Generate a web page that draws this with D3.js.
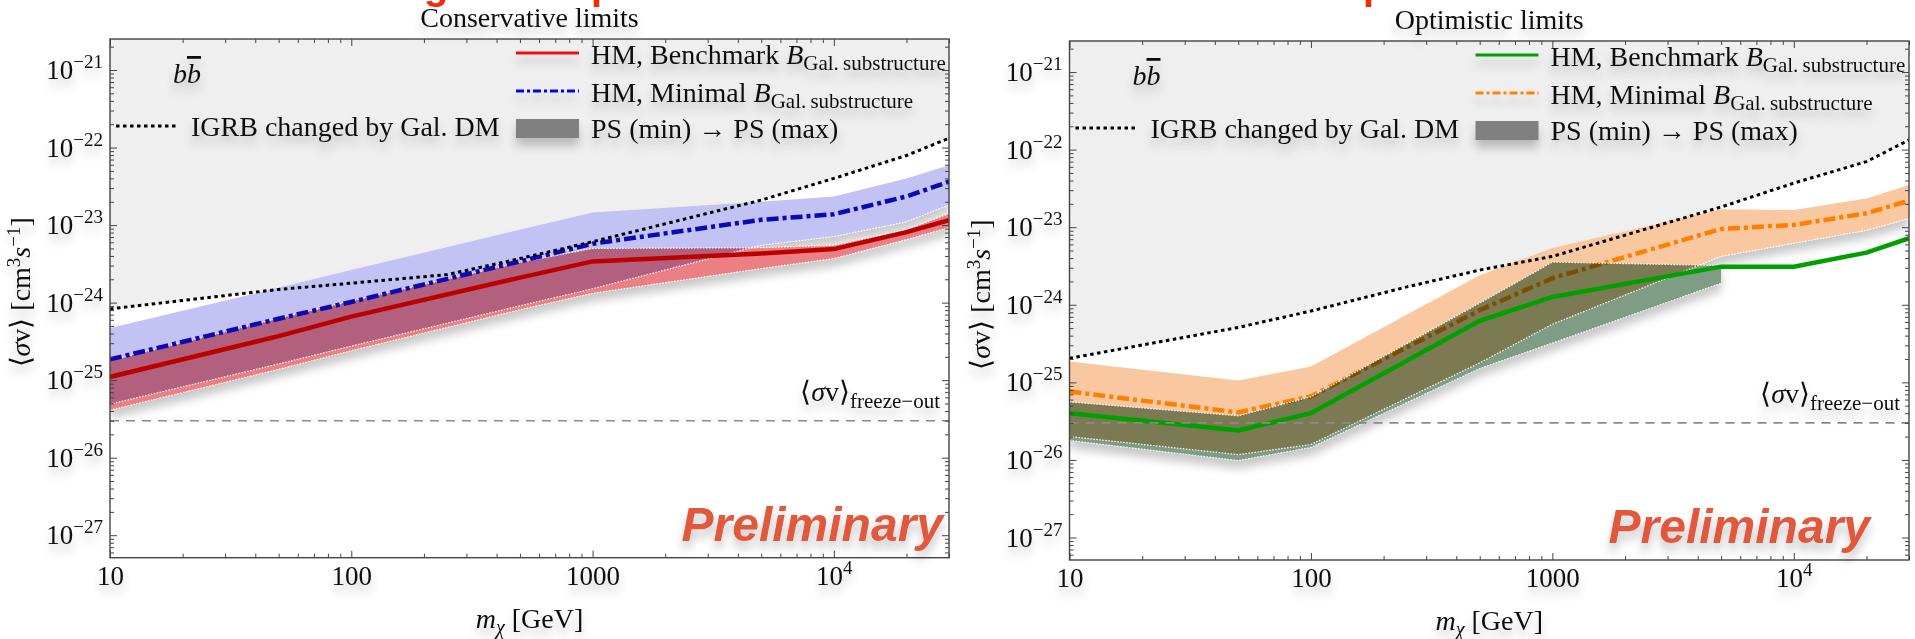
<!DOCTYPE html>
<html>
<head>
<meta charset="utf-8">
<script src="https://cdn.jsdelivr.net/npm/d3@7"></script>
<style>
  body { margin: 0; background: #fff; }
  svg { display: block; }
  text { font-family: "Liberation Serif", "Times New Roman", serif; fill: #111; }
</style>
</head>
<body>
<div id="chart"></div>
<script>
// ---- data ----
const masses = [10, 50, 100, 500, 1000, 5000, 10000, 20000, 30000];
const igrbMasses = [10, 50, 100, 250, 500, 1000, 5000, 10000, 20000, 30000];
const optBandMasses = [10, 50, 100, 500, 1000, 5000];

// Conservative limits
const consBenchmark     = [1.10e-25, 3.7e-25, 6.6e-25, 2.1e-24, 3.4e-24, 4.3e-24, 4.9e-24, 8.1e-24, 1.16e-23];
const consBenchmarkHigh = [1.78e-25, 6.3e-25, 1.05e-24, 3.3e-24, 5.0e-24, 5.1e-24, 5.5e-24, 8.7e-24, 1.41e-23];
const consBenchmarkLow  = [4.1e-26, 1.38e-25, 2.4e-25, 8.1e-25, 1.32e-24, 2.75e-24, 3.7e-24, 6.5e-24, 9.3e-24];
const consMinimal       = [1.85e-25, 6.2e-25, 1.02e-24, 3.4e-24, 5.75e-24, 1.17e-23, 1.38e-23, 2.34e-23, 3.63e-23];
const consMinimalHigh   = [4.7e-25, 1.55e-24, 2.63e-24, 8.7e-24, 1.45e-23, 2.0e-23, 2.34e-23, 3.98e-23, 5.9e-23];
const consMinimalLow    = [4.9e-26, 1.62e-25, 2.75e-25, 9.1e-25, 1.51e-24, 5.5e-24, 7.1e-24, 1.1e-23, 1.82e-23];
const consIgrb          = [8.3e-25, 1.48e-24, 1.78e-24, 2.3e-24, 3.7e-24, 6.1e-24, 2.1e-23, 4.0e-23, 7.9e-23, 1.32e-22];

// Optimistic limits
const optBenchmark      = [4.0e-26, 2.4e-26, 4.0e-26, 6.2e-25, 1.26e-24, 3.1e-24, 3.1e-24, 4.7e-24, 7.2e-24];
const optBenchmarkHigh  = [5.6e-26, 3.7e-26, 6.5e-26, 1.05e-24, 3.55e-24, 3.2e-24];
const optBenchmarkLow   = [1.78e-26, 9.8e-27, 1.45e-26, 1.51e-25, 3.2e-25, 1.9e-24];
const optMinimal        = [7.6e-26, 4.1e-26, 6.6e-26, 8.5e-25, 2.2e-24, 9.5e-24, 1.07e-23, 1.51e-23, 2.2e-23];
const optMinimalHigh    = [1.86e-25, 1.06e-25, 1.6e-25, 2.4e-24, 5.4e-24, 1.7e-23, 1.66e-23, 2.34e-23, 3.5e-23];
const optMinimalLow     = [2.0e-26, 1.17e-26, 1.58e-26, 1.78e-25, 5.6e-25, 4.2e-24, 6.2e-24, 9.1e-24, 1.29e-23];
const optIgrb           = [2.04e-25, 5.1e-25, 8.3e-25, 1.7e-24, 2.8e-24, 4.2e-24, 1.82e-23, 3.7e-23, 7.0e-23, 1.33e-22];

const freezeOut = 3e-26;

const xTickValues = [10, 100, 1000, 10000];
const xTickLabels = [["10", ""], ["100", ""], ["1000", ""], ["10", "4"]];
const yTickValues = [1e-27, 1e-26, 1e-25, 1e-24, 1e-23, 1e-22, 1e-21];
const yTickLabels = ["\u221227", "\u221226", "\u221225", "\u221224", "\u221223", "\u221222", "\u221221"];

// cut-off slide heading above the figure (only descenders visible)
const headingBits = [["g", 424], ["p", 591], ["p", 1363]];

const W = 1915, H = 639;
const xDomain = [10, 30000];
const yDomain = [Math.pow(10, -27.29), Math.pow(10, -20.6)];

const svg = d3.select("#chart").append("svg").attr("width", W).attr("height", H);
const defs = svg.append("defs");
const shadow = defs.append("filter").attr("id", "shadow").attr("filterUnits", "userSpaceOnUse")
    .attr("x", -2500).attr("y", -1500).attr("width", 5000).attr("height", 3000);
shadow.append("feDropShadow").attr("dx", 0).attr("dy", 8).attr("stdDeviation", 5)
    .attr("flood-color", "#000").attr("flood-opacity", 0.22);

// minor tick positions
const minorX = [];
for (let k = 1; k <= 4; k++) for (let j = 2; j <= 9; j++) { const v = j * Math.pow(10, k); if (v <= 30000) minorX.push(v); }
const minorY = [];
for (let k = -28; k <= -21; k++) for (let j = 2; j <= 9; j++) { const v = j * Math.pow(10, k); if (v >= yDomain[0] && v <= yDomain[1]) minorY.push(v); }

const panels = [
  { left: 110, right: 949, top: 39, bottom: 557.7, title: "Conservative limits",
    bench: consBenchmark, benchHi: consBenchmarkHigh, benchLo: consBenchmarkLow, benchBandMasses: masses,
    minimal: consMinimal, minHi: consMinimalHigh, minLo: consMinimalLow, igrb: consIgrb,
    benchColor: "#bb0000", benchLegend: "#ee1010", minColor: "#0a0ab4", minLegend: "#0000ff",
    benchBand: "#eb7f84", minBand: "#c2c2f4", minLineOnTop: true, prelimRight: 943 },
  { left: 1069.5, right: 1909, top: 41, bottom: 560, title: "Optimistic limits",
    bench: optBenchmark, benchHi: optBenchmarkHigh, benchLo: optBenchmarkLow, benchBandMasses: optBandMasses,
    minimal: optMinimal, minHi: optMinimalHigh, minLo: optMinimalLow, igrb: optIgrb,
    benchColor: "#00a000", benchLegend: "#00a000", minColor: "#ff8000", minLegend: "#ff8000",
    benchBand: "#7f9c84", minBand: "#f9c8a0", minLineOnTop: false, prelimRight: 1870 }
];

function supLabel(sel, base, exp, supSize, rise) {
  sel.text(null);
  sel.append("tspan").text(base);
  if (exp) sel.append("tspan").attr("font-size", supSize).attr("dy", -rise).text(exp);
}

// heading fragments
svg.append("g").selectAll("text").data(headingBits).join("text")
    .attr("x", d => d[1]).attr("y", -1)
    .style("font-family", "'Liberation Sans', Arial, sans-serif").attr("font-weight", "bold")
    .attr("font-size", 40).style("fill", "#f52a0a").text(d => d[0]);

panels.forEach((p, pi) => {
  const x = d3.scaleLog().domain(xDomain).range([p.left, p.right]);
  const y = d3.scaleLog().domain(yDomain).range([p.bottom, p.top]);
  const g = svg.append("g");

  const clipId = "clip" + pi;
  defs.append("clipPath").attr("id", clipId).append("rect")
      .attr("x", p.left).attr("y", p.top).attr("width", p.right - p.left).attr("height", p.bottom - p.top);
  const plot = g.append("g").attr("clip-path", `url(#${clipId})`);

  plot.append("rect").attr("x", p.left).attr("y", p.top)
      .attr("width", p.right - p.left).attr("height", p.bottom - p.top).attr("fill", "#fff");

  // excluded region above IGRB curve
  const igrbPts = igrbMasses.map((m, i) => ({ m, v: p.igrb[i] }));
  plot.append("path").datum(igrbPts)
      .attr("d", d3.area().x(d => x(d.m)).y0(p.top).y1(d => y(d.v)))
      .attr("fill", "#efefef");

  const band = d3.area().x(d => x(d.m)).y0(d => y(d.lo)).y1(d => y(d.hi));
  const edgeLo = d3.line().x(d => x(d.m)).y(d => y(d.lo));
  const edgeHi = d3.line().x(d => x(d.m)).y(d => y(d.hi));
  const curve = d3.line().x(d => x(d.m)).y(d => y(d.v));

  const minPts = masses.map((m, i) => ({ m, lo: p.minLo[i], hi: p.minHi[i] }));
  const benchPts = p.benchBandMasses.map((m, i) => ({ m, lo: p.benchLo[i], hi: p.benchHi[i] }));
  const minLine = masses.map((m, i) => ({ m, v: p.minimal[i] }));
  const benchLine = masses.map((m, i) => ({ m, v: p.bench[i] }));

  const bands = plot.append("g").attr("filter", "url(#shadow)").style("isolation", "isolate");
  bands.append("path").datum(minPts).attr("d", band).attr("fill", p.minBand).style("mix-blend-mode", "multiply");
  const drawMinLine = parent => parent.append("path").datum(minLine).attr("d", curve)
      .attr("fill", "none").attr("stroke", p.minColor).attr("stroke-width", 4.5)
      .attr("stroke-dasharray", "12,4,4,4");
  if (!p.minLineOnTop) drawMinLine(bands);
  bands.append("path").datum(benchPts).attr("d", band).attr("fill", p.benchBand).style("mix-blend-mode", "multiply");

  // white dotted band edges
  const edges = plot.append("g").attr("fill", "none").attr("stroke", "#fff")
      .attr("stroke-width", 1.2).attr("stroke-dasharray", "1.5,1.5");
  edges.append("path").datum(benchPts).attr("d", edgeLo);
  edges.append("path").datum(benchPts).attr("d", edgeHi);
  edges.append("path").datum(minPts).attr("d", edgeLo);

  if (p.minLineOnTop) drawMinLine(plot);
  plot.append("path").datum(benchLine).attr("d", curve)
      .attr("fill", "none").attr("stroke", p.benchColor).attr("stroke-width", 4.5);

  // IGRB dotted curve
  plot.append("path").datum(igrbPts).attr("d", curve)
      .attr("fill", "none").attr("stroke", "#000").attr("stroke-width", 3)
      .attr("stroke-dasharray", "3.5,3.5");

  // freeze-out line
  plot.append("line").attr("x1", p.left).attr("x2", p.right)
      .attr("y1", y(freezeOut)).attr("y2", y(freezeOut))
      .attr("stroke", "#8a8a8a").attr("stroke-width", 1.6).attr("stroke-dasharray", "9,7");

  // ---- frame & ticks ----
  const axisCol = "#444";
  const styleAxis = a => { a.attr("font-family", null).attr("font-size", null).attr("color", axisCol); a.select(".domain").remove(); };

  const xb = g.append("g").attr("transform", `translate(0,${p.bottom})`)
      .call(d3.axisBottom(x).tickValues(xTickValues).tickSize(-7).tickPadding(8).tickFormat(""));
  styleAxis(xb);
  xb.selectAll(".tick text").attr("font-size", 27).attr("filter", "url(#shadow)")
      .each(function (d, i) { supLabel(d3.select(this), xTickLabels[i][0], xTickLabels[i][1], 19, 11); });
  g.append("g").attr("transform", `translate(0,${p.bottom})`)
      .call(d3.axisBottom(x).tickValues(minorX).tickSize(-4).tickFormat("")).call(styleAxis);
  g.append("g").attr("transform", `translate(0,${p.top})`)
      .call(d3.axisTop(x).tickValues(xTickValues).tickSize(-7).tickFormat("")).call(styleAxis);
  g.append("g").attr("transform", `translate(0,${p.top})`)
      .call(d3.axisTop(x).tickValues(minorX).tickSize(-4).tickFormat("")).call(styleAxis);

  const yl = g.append("g").attr("transform", `translate(${p.left},0)`)
      .call(d3.axisLeft(y).tickValues(yTickValues).tickSize(-7).tickPadding(7).tickFormat(""));
  styleAxis(yl);
  yl.selectAll(".tick text").attr("font-size", 27).attr("filter", "url(#shadow)")
      .each(function (d, i) { supLabel(d3.select(this), "10", yTickLabels[i], 19, 11); });
  g.append("g").attr("transform", `translate(${p.left},0)`)
      .call(d3.axisLeft(y).tickValues(minorY).tickSize(-4).tickFormat("")).call(styleAxis);
  g.append("g").attr("transform", `translate(${p.right},0)`)
      .call(d3.axisRight(y).tickValues(yTickValues).tickSize(-7).tickFormat("")).call(styleAxis);
  g.append("g").attr("transform", `translate(${p.right},0)`)
      .call(d3.axisRight(y).tickValues(minorY).tickSize(-4).tickFormat("")).call(styleAxis);

  g.append("rect").attr("x", p.left).attr("y", p.top)
      .attr("width", p.right - p.left).attr("height", p.bottom - p.top)
      .attr("fill", "none").attr("stroke", axisCol).attr("stroke-width", 1.4);

  // ---- titles ----
  const cx = (p.left + p.right) / 2;
  g.append("text").attr("x", cx).attr("y", p.top - 12).attr("text-anchor", "middle")
      .attr("font-size", 28).attr("filter", "url(#shadow)").text(p.title);

  const xt = g.append("text").attr("x", cx).attr("y", p.bottom + 70).attr("text-anchor", "middle")
      .attr("font-size", 28).attr("filter", "url(#shadow)");
  xt.append("tspan").attr("font-style", "italic").text("m");
  xt.append("tspan").attr("font-style", "italic").attr("font-size", 20).attr("dy", 6).text("\u03c7");
  xt.append("tspan").attr("dy", -6).text(" [GeV]");

  const ycy = (p.top + p.bottom) / 2 - 6;
  const yt = g.append("g").attr("filter", "url(#shadow)").append("text")
      .attr("transform", `translate(${p.left - 80},${ycy}) rotate(-90)`)
      .attr("text-anchor", "middle").attr("font-size", 28);
  yt.append("tspan").text("\u27e8");
  yt.append("tspan").attr("font-style", "italic").text("\u03c3");
  yt.append("tspan").text("v\u27e9 [cm");
  yt.append("tspan").attr("font-size", 19).attr("dy", -10).text("3");
  yt.append("tspan").attr("dy", 10).attr("font-style", "italic").text("s");
  yt.append("tspan").attr("font-size", 19).attr("dy", -10).text("\u22121");
  yt.append("tspan").attr("dy", 10).text("]");

  // freeze-out label
  const fo = g.append("text").attr("x", p.right - 9).attr("y", p.top + 362).attr("text-anchor", "end")
      .attr("font-size", 28).attr("filter", "url(#shadow)");
  fo.append("tspan").text("\u27e8");
  fo.append("tspan").attr("font-style", "italic").text("\u03c3");
  fo.append("tspan").text("v\u27e9");
  fo.append("tspan").attr("font-size", 21).attr("dy", 7).text("freeze\u2212out");

  // b bbar
  const bb = g.append("text").attr("x", p.left + 63).attr("y", p.top + 44)
      .attr("font-size", 28).attr("font-style", "italic").attr("filter", "url(#shadow)");
  bb.append("tspan").text("b");
  bb.append("tspan").style("text-decoration", "overline").text("b");

  // ---- legend ----
  const lg = g.append("g").attr("font-size", 28);
  const sx0 = p.left + 406, sx1 = p.left + 469, tx = p.left + 481;
  lg.append("line").attr("x1", sx0).attr("x2", sx1).attr("y1", p.top + 14).attr("y2", p.top + 14)
      .attr("stroke", p.benchLegend).attr("stroke-width", 3.2).attr("filter", "url(#shadow)");
  lg.append("line").attr("x1", sx0).attr("x2", sx1).attr("y1", p.top + 52).attr("y2", p.top + 52)
      .attr("stroke", p.minLegend).attr("stroke-width", 3.2).attr("stroke-dasharray", "8,3,3,3")
      .attr("filter", "url(#shadow)");
  lg.append("rect").attr("x", sx0).attr("y", p.top + 80).attr("width", sx1 - sx0).attr("height", 19)
      .attr("fill", "#808080").attr("filter", "url(#shadow)");
  [["HM, Benchmark ", 25], ["HM, Minimal ", 63]].forEach(([lab, dy]) => {
    const t = lg.append("text").attr("x", tx).attr("y", p.top + dy).attr("filter", "url(#shadow)");
    t.append("tspan").text(lab);
    t.append("tspan").attr("font-style", "italic").text("B");
    t.append("tspan").attr("font-size", 21).attr("dy", 6).text("Gal.\u2009substructure");
  });
  lg.append("text").attr("x", tx).attr("y", p.top + 99).attr("filter", "url(#shadow)")
      .text("PS (min) \u2192 PS (max)");
  lg.append("line").attr("x1", p.left + 6).attr("x2", p.left + 68).attr("y1", p.top + 87).attr("y2", p.top + 87)
      .attr("stroke", "#000").attr("stroke-width", 3).attr("stroke-dasharray", "3.5,3.5");
  lg.append("text").attr("x", p.left + 81).attr("y", p.top + 97).attr("filter", "url(#shadow)")
      .text("IGRB changed by Gal. DM");

  // preliminary stamp
  g.append("text").attr("x", p.prelimRight).attr("y", p.bottom - 17).attr("text-anchor", "end")
      .style("font-family", "'Liberation Sans', Arial, sans-serif")
      .attr("font-size", 48).attr("font-weight", "bold").attr("font-style", "italic")
      .style("fill", "#e2583e").attr("filter", "url(#shadow)").text("Preliminary");
});
</script>
</body>
</html>
